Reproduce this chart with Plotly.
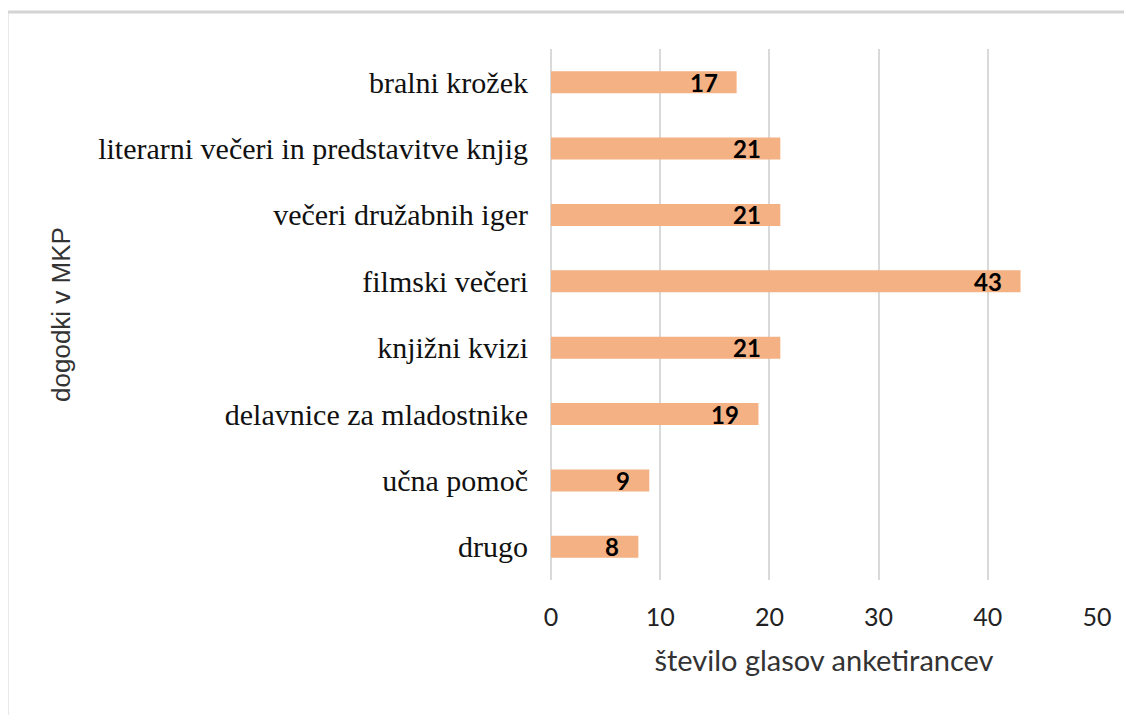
"""Horizontal bar chart of library event preferences."""

import plotly.graph_objects as go

CATEGORIES = [
    "bralni krožek",
    "literarni večeri in predstavitve knjig",
    "večeri družabnih iger",
    "filmski večeri",
    "knjižni kvizi",
    "delavnice za mladostnike",
    "učna pomoč",
    "drugo",
]
VOTES = [17, 21, 21, 43, 21, 19, 9, 8]
X_TICKS = [0, 10, 20, 30, 40, 50]

BAR_COLOR = "#F4B183"
GRID_COLOR = "#D9D9D9"

figure = go.Figure(
    go.Bar(
        x=VOTES,
        y=CATEGORIES,
        orientation="h",
        marker={"color": BAR_COLOR, "line": {"width": 0}},
        width=0.33,
        hoverinfo="skip",
    )
)

# data labels sit inside the bar end, with Excel-like padding
for category, value in zip(CATEGORIES, VOTES):
    figure.add_annotation(
        x=value,
        y=category,
        text=f"<b>{value}</b>",
        showarrow=False,
        xanchor="right",
        xshift=-17,
        font={"family": "Lato, sans-serif", "size": 24, "color": "black"},
    )

# light grey frame around the whole picture
figure.add_shape(
    type="rect",
    xref="paper",
    yref="paper",
    x0=-0.9963,
    x1=1.075,
    y0=-0.27,
    y1=1.0697,
    line={"color": "#D4D4D4", "width": 3},
    fillcolor="rgba(0,0,0,0)",
    layer="below",
)

figure.update_layout(
    width=1132,
    height=715,
    margin={"l": 543, "r": 43, "t": 41, "b": 143},
    paper_bgcolor="white",
    plot_bgcolor="white",
    showlegend=False,
    bargap=0.67,
)
figure.update_xaxes(
    range=[0, 50],
    tickvals=X_TICKS,
    showgrid=True,
    gridcolor=GRID_COLOR,
    gridwidth=2,
    zeroline=True,
    zerolinecolor=GRID_COLOR,
    zerolinewidth=2,
    showline=False,
    ticks="",
    ticklabelstandoff=20,
    tickfont={"family": "Lato, sans-serif", "size": 25, "color": "#222222"},
    title={
        "text": "število glasov anketirancev",
        "font": {"family": "Lato, sans-serif", "size": 29, "color": "#333333"},
        "standoff": 20,
    },
    automargin=False,
    fixedrange=True,
)
figure.update_yaxes(
    categoryorder="array",
    categoryarray=CATEGORIES[::-1],
    showgrid=False,
    showline=False,
    ticks="",
    ticklabelstandoff=22,
    tickfont={"family": "Liberation Serif, serif", "size": 30, "color": "#111111"},
    title={
        "text": "dogodki v MKP",
        "font": {"family": "Liberation Sans, Arial, sans-serif", "size": 26, "color": "#333333"},
        "standoff": 20,
    },
    automargin=False,
    fixedrange=True,
)

figure.write_html("out.html")
